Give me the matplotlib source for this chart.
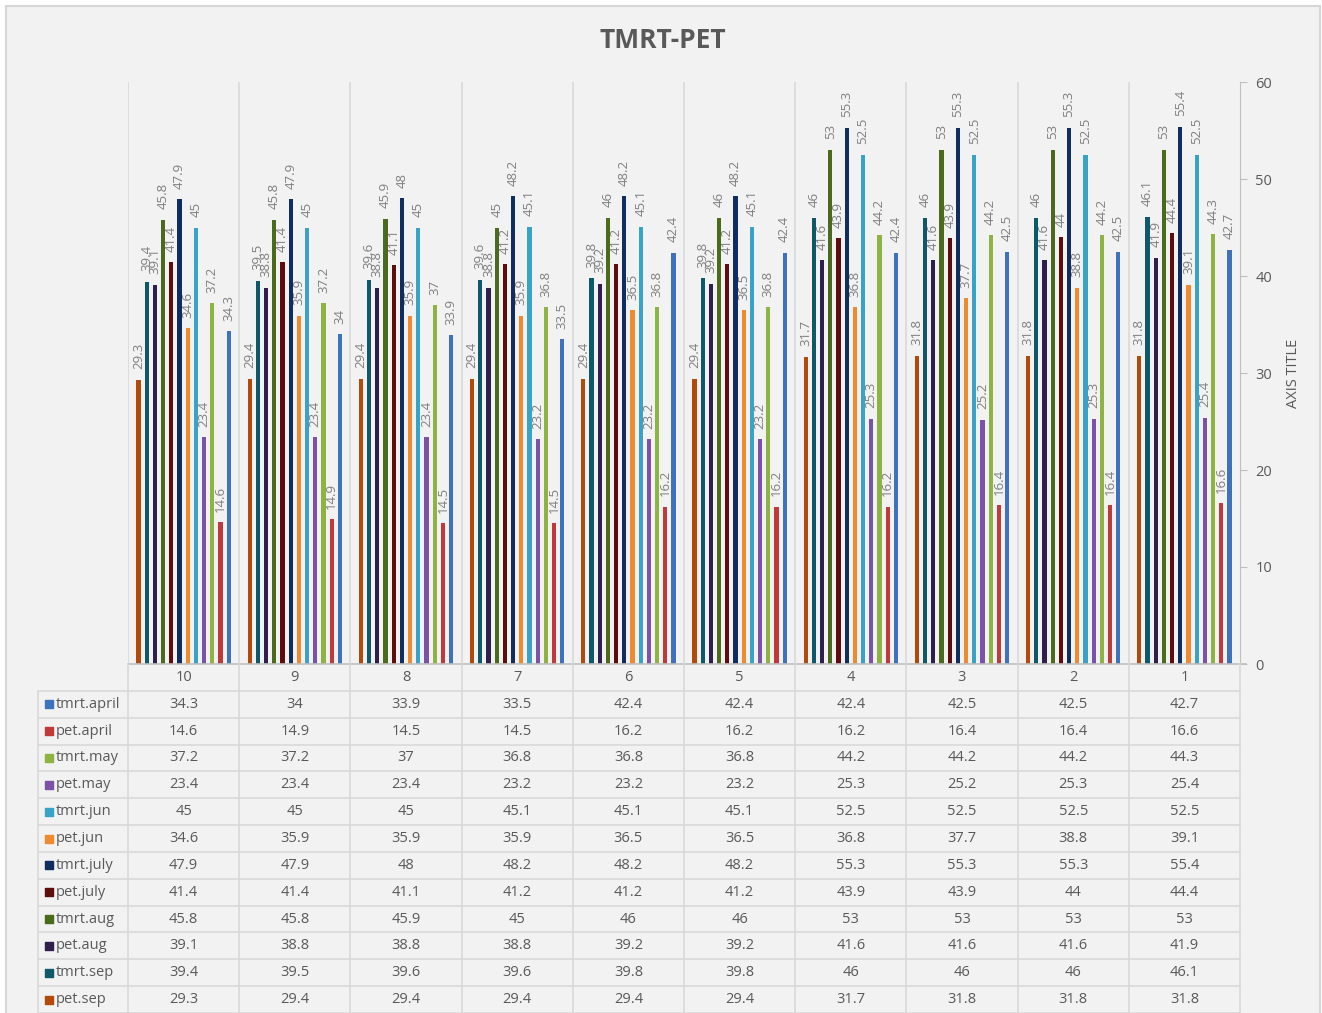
import numpy as np
import matplotlib
matplotlib.use("Agg")
import matplotlib.pyplot as plt
from matplotlib.patches import Rectangle

plt.rcParams["font.family"] = ["Open Sans", "DejaVu Sans"]

# =============================================================================
#  Data (categories are shown in the order of the chart: 10 down to 1)
# =============================================================================

categories = ["10", "9", "8", "7", "6", "5", "4", "3", "2", "1"]

tmrt_april = [34.3, 34, 33.9, 33.5, 42.4, 42.4, 42.4, 42.5, 42.5, 42.7]
pet_april = [14.6, 14.9, 14.5, 14.5, 16.2, 16.2, 16.2, 16.4, 16.4, 16.6]
tmrt_may = [37.2, 37.2, 37, 36.8, 36.8, 36.8, 44.2, 44.2, 44.2, 44.3]
pet_may = [23.4, 23.4, 23.4, 23.2, 23.2, 23.2, 25.3, 25.2, 25.3, 25.4]
tmrt_jun = [45, 45, 45, 45.1, 45.1, 45.1, 52.5, 52.5, 52.5, 52.5]
pet_jun = [34.6, 35.9, 35.9, 35.9, 36.5, 36.5, 36.8, 37.7, 38.8, 39.1]
tmrt_july = [47.9, 47.9, 48, 48.2, 48.2, 48.2, 55.3, 55.3, 55.3, 55.4]
pet_july = [41.4, 41.4, 41.1, 41.2, 41.2, 41.2, 43.9, 43.9, 44, 44.4]
tmrt_aug = [45.8, 45.8, 45.9, 45, 46, 46, 53, 53, 53, 53]
pet_aug = [39.1, 38.8, 38.8, 38.8, 39.2, 39.2, 41.6, 41.6, 41.6, 41.9]
tmrt_sep = [39.4, 39.5, 39.6, 39.6, 39.8, 39.8, 46, 46, 46, 46.1]
pet_sep = [29.3, 29.4, 29.4, 29.4, 29.4, 29.4, 31.7, 31.8, 31.8, 31.8]

series_names = [
    "tmrt.april", "pet.april", "tmrt.may", "pet.may", "tmrt.jun", "pet.jun",
    "tmrt.july", "pet.july", "tmrt.aug", "pet.aug", "tmrt.sep", "pet.sep",
]
series_values = [
    tmrt_april, pet_april, tmrt_may, pet_may, tmrt_jun, pet_jun,
    tmrt_july, pet_july, tmrt_aug, pet_aug, tmrt_sep, pet_sep,
]
series_colors = [
    "#3f72bd", "#c0393b", "#8db443", "#7c52a8", "#38a3c6", "#f08a31",
    "#0f2d5e", "#5e0d0d", "#4a6b1b", "#2f1f4c", "#0f5869", "#b24a0b",
]

TEXT = "#595959"
LABEL = "#7f7f7f"
GRID = "#d9d9d9"

# =============================================================================
#  Figure
# =============================================================================

W, H = 1322, 1013
fig = plt.figure(figsize=(W / 100, H / 100), dpi=100, facecolor="white")
fig.patches.append(
    Rectangle((6 / W, -0.01), (1320 - 6) / W, 1.01 - 6 / H,
              transform=fig.transFigure, facecolor="#f2f2f2",
              edgecolor="#d6d6d6", linewidth=1.5, zorder=-10)
)

x_left, x_right = 128, 1240
y_zero, y_top = 664, 82
ax = fig.add_axes([x_left / W, 1 - y_zero / H, (x_right - x_left) / W,
                   (y_zero - y_top) / H])
ax.set_facecolor("none")

n_cat = len(categories)
x = np.arange(n_cat)
slot = 0.0737
bar_w = 0.037
n_ser = len(series_names)

# Excel draws the series in reverse order inside each group
for pos, idx in enumerate(range(n_ser - 1, -1, -1)):
    offs = (pos - (n_ser - 1) / 2) * slot
    vals = series_values[idx]
    ax.bar(x + offs, vals, width=bar_w, color=series_colors[idx], zorder=3)
    for xi, v in zip(x + offs, vals):
        ax.annotate(f"{v:g}", (xi, v), xytext=(0, 7.5), textcoords="offset points",
                    rotation=90, ha="center", va="bottom", fontsize=9.5,
                    color=LABEL, zorder=4)

ax.set_xlim(-0.5, n_cat - 0.5)
ax.set_ylim(0, 60)
ax.set_yticks(range(0, 61, 10))
ax.yaxis.tick_right()
ax.yaxis.set_label_position("right")
ax.tick_params(axis="y", colors="#bfbfbf", labelcolor=TEXT, labelsize=10.5,
               length=5, pad=6)
ax.set_xticks([])
for side in ["top", "left", "bottom"]:
    ax.spines[side].set_visible(False)
ax.spines["right"].set_color("#bfbfbf")
ax.set_ylabel("AXIS TITLE", color=TEXT, fontsize=10.5, labelpad=10)
for b in np.arange(-0.5, n_cat, 1.0)[:-1]:
    ax.axvline(b, color=GRID, linewidth=1.2, zorder=1)

fig.text(663 / W, 1 - 40 / H, "TMRT-PET", ha="center", va="center",
         fontsize=19, fontweight="bold", color=TEXT)

# =============================================================================
#  Data table
# =============================================================================

tab = fig.add_axes([x_left / W, 0, (x_right - x_left) / W, (H - y_zero) / H])
tab.set_xlim(-0.5, n_cat - 0.5)
n_rows = n_ser + 1
tab.set_ylim(n_rows, 0)
tab.axis("off")
tab.patch.set_visible(False)

col_px = (x_right - x_left) / n_cat
leg_left = -0.5 - (x_left - 38) / col_px
sq_x = -0.5 - (x_left - 48.5) / col_px
txt_x = -0.5 - (x_left - 56) / col_px

tab.plot([-0.5, n_cat - 0.5 + 0.05], [0, 0], color="#bfbfbf", linewidth=1.2,
         clip_on=False)
for r in range(1, n_rows + 1):
    tab.plot([leg_left, n_cat - 0.5], [r, r], color=GRID, linewidth=1.2,
             clip_on=False)
for b in np.arange(-0.5, n_cat, 1.0):
    tab.plot([b, b], [0, n_rows], color=GRID, linewidth=1.2, clip_on=False)
tab.plot([leg_left, leg_left], [1, n_rows], color=GRID, linewidth=1.2,
         clip_on=False)

for i, c in enumerate(categories):
    tab.text(i, 0.5, c, ha="center", va="center", fontsize=10.5, color=TEXT)

for r, (name, vals, col) in enumerate(zip(series_names, series_values,
                                          series_colors), start=1):
    tab.scatter([sq_x], [r + 0.5], marker="s", s=28, color=col, clip_on=False)
    tab.text(txt_x, r + 0.5, name, ha="left", va="center", fontsize=10.5,
             color=TEXT, clip_on=False)
    for i, v in enumerate(vals):
        tab.text(i, r + 0.5, f"{v:g}", ha="center", va="center",
                 fontsize=10.5, color=TEXT)

fig.savefig("out.png", dpi=100, facecolor=fig.get_facecolor())
